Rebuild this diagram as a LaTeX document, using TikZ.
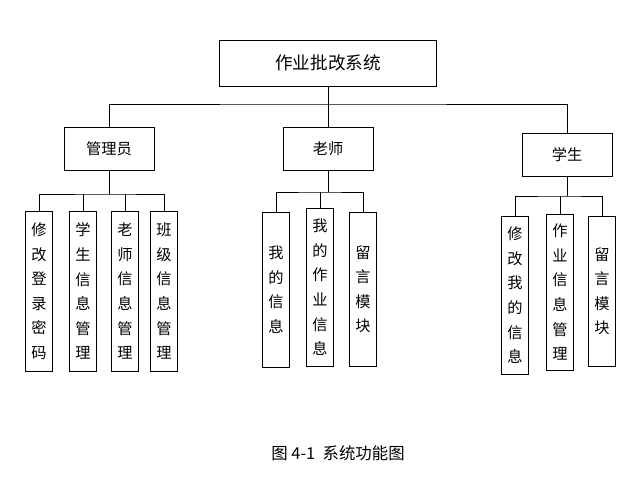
\documentclass[tikz,border=0pt]{standalone}
\usepackage{fontspec}
\setmainfont{Noto Sans CJK SC}
\usetikzlibrary{positioning}
\tikzset{
  topbox/.style = {rectangle, draw=black, minimum width=6.5cm, minimum height=1.38cm, font=\fontsize{15}{17}\selectfont},
  midbox/.style = {rectangle, draw=black, minimum width=2.7cm, minimum height=1.3cm, font=\fontsize{13}{15}\selectfont},
  leaf/.style = {rectangle, draw=black, minimum width=0.8cm, inner sep=1pt, align=center, anchor=north, font=\fontsize{13}{21}\selectfont},
  line/.style = {draw=black, line width=0.6pt}
}
\begin{document}
\begin{tikzpicture}[x=0.03cm, y=-0.03cm]
  \useasboundingbox (0,0) rectangle (642,479);
  \node (sys) [topbox] at (328,63) {作业批改系统};
  \node (admin) [midbox] at (109,149) {管理员};
  \node (teach) [midbox] at (328,149) {老师};
  \node (stu) [midbox] at (567,155) {学生};

  % bus lines
  \coordinate (bus) at (328,104);
  \draw [line] (sys.south) -- (bus);
  \draw [line] (admin.north) |- (bus) -| (stu.north);
  \draw [line] (teach.north) -- (bus);

  % admin leaves
  \node (a1) [leaf, minimum height=4.8cm] at (39,211) {修\\改\\登\\录\\密\\码};
  \node (a2) [leaf, minimum height=4.8cm] at (83,211) {学\\生\\信\\息\\管\\理};
  \node (a3) [leaf, minimum height=4.8cm] at (125,211) {老\\师\\信\\息\\管\\理};
  \node (a4) [leaf, minimum height=4.8cm] at (164,211) {班\\级\\信\\息\\管\\理};
  \coordinate (abus) at (109,194);
  \draw [line] (admin.south) -- (abus);
  \draw [line] (a1.north) |- (abus) -| (a4.north);
  \draw [line] (a2.north) -- (a2.north |- abus);
  \draw [line] (a3.north) -- (a3.north |- abus);

  % teacher leaves
  \node (t1) [leaf, minimum height=4.65cm] at (276,212) {我\\的\\信\\息};
  \node (t2) [leaf, minimum height=4.74cm] at (320,208) {我\\的\\作\\业\\信\\息};
  \node (t3) [leaf, minimum height=4.62cm] at (363,212) {留\\言\\模\\块};
  \coordinate (tbus) at (320,192);
  \draw [line] (teach.south) -- (teach.south |- tbus);
  \draw [line] (t1.north) |- (tbus) -| (t3.north);
  \draw [line] (t2.north) -- (tbus);

  % student leaves
  \node (s1) [leaf, minimum height=4.74cm] at (515,216) {修\\改\\我\\的\\信\\息};
  \node (s2) [leaf, minimum height=4.68cm] at (560,214) {作\\业\\信\\息\\管\\理};
  \node (s3) [leaf, minimum height=4.5cm] at (602,216) {留\\言\\模\\块};
  \coordinate (sbus) at (560,196);
  \draw [line] (stu.south) -- (stu.south |- sbus);
  \draw [line] (s1.north) |- (sbus) -| (s3.north);
  \draw [line] (s2.north) -- (sbus);

  \node (cap) [font=\fontsize{14}{16}\selectfont] at (338,453) {图 4-1\ \ 系统功能图};
\end{tikzpicture}
\end{document}
